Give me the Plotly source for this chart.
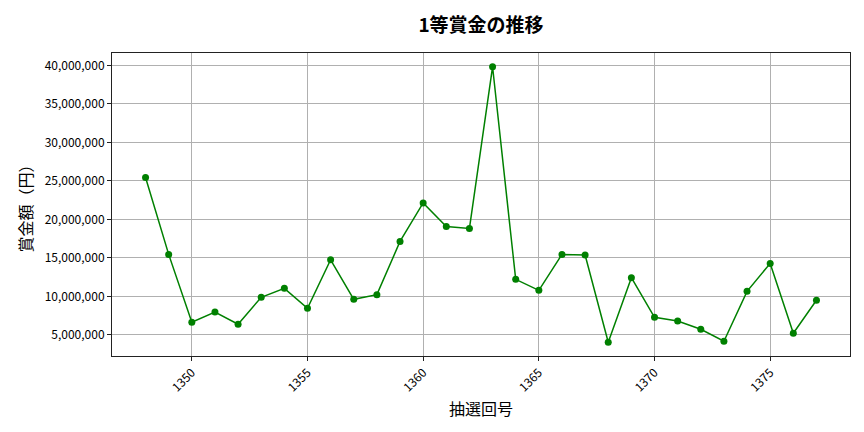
import plotly.graph_objects as go

# 抽選回号と1等賞金（円）
draws = list(range(1348, 1378))
prize = [25440000, 15460000, 6640000, 7980000, 6390000, 9880000, 11050000, 8460000,
         14760000, 9620000, 10230000, 17140000, 22150000, 19090000, 18830000, 39830000,
         12220000, 10790000, 15460000, 15370000, 4050000, 12430000, 7290000, 6810000,
         5730000, 4180000, 10660000, 14290000, 5220000, 9500000]
y_ticks = [5000000, 10000000, 15000000, 20000000, 25000000, 30000000, 35000000, 40000000]
x_ticks = [1350, 1355, 1360, 1365, 1370, 1375]

fnt = "Noto Sans CJK JP"

fig = go.Figure()
fig.add_trace(go.Scatter(
    x=draws, y=prize, mode="lines+markers",
    line=dict(color="green", width=1.5),
    marker=dict(color="green", size=7),
))

span = max(prize) - min(prize)
# page body adds ~8px offset, so margins are shifted a bit
fig.update_layout(
    width=864, height=432,
    margin=dict(l=104, r=22, t=45, b=84),
    plot_bgcolor="white", paper_bgcolor="white",
    showlegend=False,
    font=dict(family=fnt, size=12, color="black"),
    title=dict(text="<b>1等賞金の推移</b>", x=0.5, xref="paper", xanchor="center",
               y=0.975, yanchor="top",
               font=dict(family=fnt, size=19, color="black")),
    xaxis=dict(
        range=[1348 - 29 * 0.05, 1377 + 29 * 0.05],
        tickvals=x_ticks, ticktext=[str(v) for v in x_ticks], tickangle=-45,
        showgrid=True, gridcolor="#b0b0b0", gridwidth=1,
        showline=True, linecolor="#222", linewidth=1, mirror=True,
        ticks="outside", ticklen=4, tickcolor="#222", zeroline=False,
        automargin=False,
        title=dict(text="抽選回号", font=dict(family=fnt, size=16), standoff=10),
    ),
    yaxis=dict(
        range=[min(prize) - span * 0.05, max(prize) + span * 0.05],
        tickvals=y_ticks, ticktext=[f"{v:,}" for v in y_ticks],
        showgrid=True, gridcolor="#b0b0b0", gridwidth=1,
        showline=True, linecolor="#222", linewidth=1, mirror=True,
        ticks="outside", ticklen=4, tickcolor="#222", zeroline=False,
        automargin=False,
        title=dict(text="賞金額（円）", font=dict(family=fnt, size=16), standoff=8),
    ),
)

fig.write_html("out.html")
